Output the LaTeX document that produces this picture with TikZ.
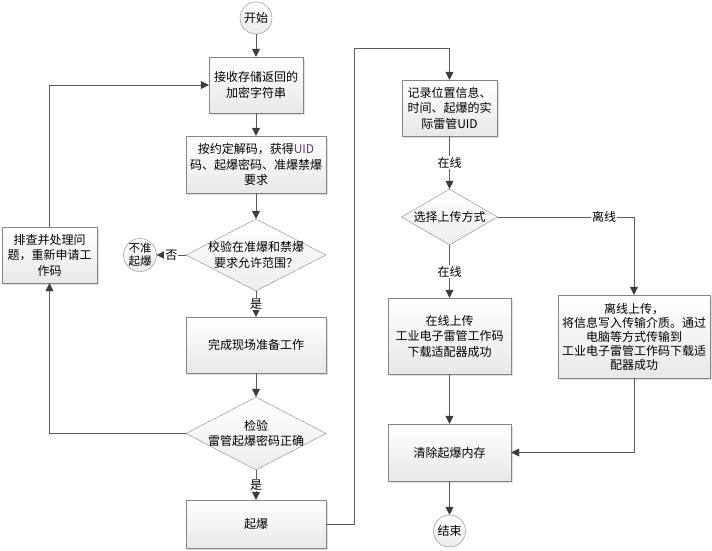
\documentclass[tikz,border=0pt]{standalone}
\usepackage{fontspec}
\setmainfont{Noto Sans CJK SC}
\usetikzlibrary{shapes.geometric,arrows.meta,shadows}
\definecolor{linegray}{HTML}{5A5A5A}
\definecolor{edgegray}{HTML}{858585}
\definecolor{tipgray}{HTML}{3C3C3C}
\definecolor{uidcol}{HTML}{6B3A73}
\begin{document}
\begin{tikzpicture}[x=1pt,y=-1pt,font=\fontsize{12}{15.5}\selectfont,
 box/.style={draw=edgegray, top color=white, bottom color=gray!18, drop shadow={opacity=.25,shadow xshift=1.5pt,shadow yshift=-1.5pt}, align=center, inner sep=0pt},
 dec/.style={diamond, draw=edgegray, top color=white, bottom color=gray!14, inner sep=0pt, minimum width=140pt, minimum height=72pt},
 term/.style={circle, draw=edgegray, top color=white, bottom color=gray!16, inner sep=0pt, minimum size=32pt, align=center},
 arr/.style={draw=linegray, -{Triangle[length=8pt,width=8pt,color=tipgray]}},
 lbl/.style={fill=white, inner sep=1pt}]
\useasboundingbox (0,0) rectangle (712,550);
% left column
\node[term] (start) at (256,18) {开始};
\node[box, minimum width=94pt, minimum height=56pt] (b1) at (256,85) {接收存储返回的\\加密字符串};
\node[box, minimum width=140pt, minimum height=57pt] (b2) at (256,164.5) {按约定解码，获得{\color{uidcol}UID}\\码、起爆密码、准爆禁爆\\要求};
\node[dec, label={[align=center]center:校验在准爆和禁爆\\要求允许范围？}] (d1) at (256,255) {};
\node[term, minimum size=33pt, font=\fontsize{11.5}{13}\selectfont] (nogo) at (140,255) {不准\\起爆};
\node[box, minimum width=140pt, minimum height=56pt] (b3) at (256,345) {完成现场准备工作};
\node[dec, minimum height=73pt, label={[align=center]center:检验\\雷管起爆密码正确}] (d2) at (256,433.5) {};
\node[box, minimum width=140pt, minimum height=48pt] (b4) at (256,524) {起爆};
\node[box, minimum width=95pt, minimum height=56pt] (fix) at (49.5,255) {排查并处理问\\题，重新申请工\\作码};
% right column
\node[box, minimum width=95pt, minimum height=56pt] (b5) at (449.5,108) {记录位置信息、\\时间、起爆的实\\际雷管UID};
\node[dec, minimum width=96pt, minimum height=56pt, label={center:选择上传方式}] (d3) at (449.5,217) {};
\node[box, minimum width=123pt, minimum height=76pt] (b6) at (449.5,336) {在线上传\\工业电子雷管工作码\\下载适配器成功};
\node[box, minimum width=152pt, minimum height=83pt, font=\fontsize{12}{14}\selectfont] (b7) at (634,336.5) {离线上传，\\将信息写入传输介质。通过\\电脑等方式传输到\\工业电子雷管工作码下载适\\配器成功};
\node[box, minimum width=123pt, minimum height=57pt] (b8) at (449.5,452.5) {清除起爆内存};
\node[term] (end) at (449.5,531) {结束};
\coordinate (up) at (354,48);
% connectors
\foreach \d/\dd in {start/b1, b1/b2, b2/d1, b3/d2, b6/b8, b8/end} \draw[arr] (\d) -- (\dd);
\draw[arr] (d1.west) -- node[lbl]{否} (nogo);
\draw[arr] (d1) -- node[lbl]{是} (b3);
\draw[arr] (d2) -- node[lbl]{是} (b4);
\draw[arr] (d2.west) -| (fix.south);
\draw[arr] (fix.north) |- (b1.west);
\draw[arr] (b4.east) -| (up) -| (b5.north);
\draw[arr] (b5) -- node[lbl]{在线} (d3);
\draw[arr] (d3) -- node[lbl]{在线} (b6);
\draw[arr] (d3.east) -| node[lbl,pos=.39]{离线} (b7.north);
\draw[arr] (b7.south) |- (b8.east);
\end{tikzpicture}
\end{document}
